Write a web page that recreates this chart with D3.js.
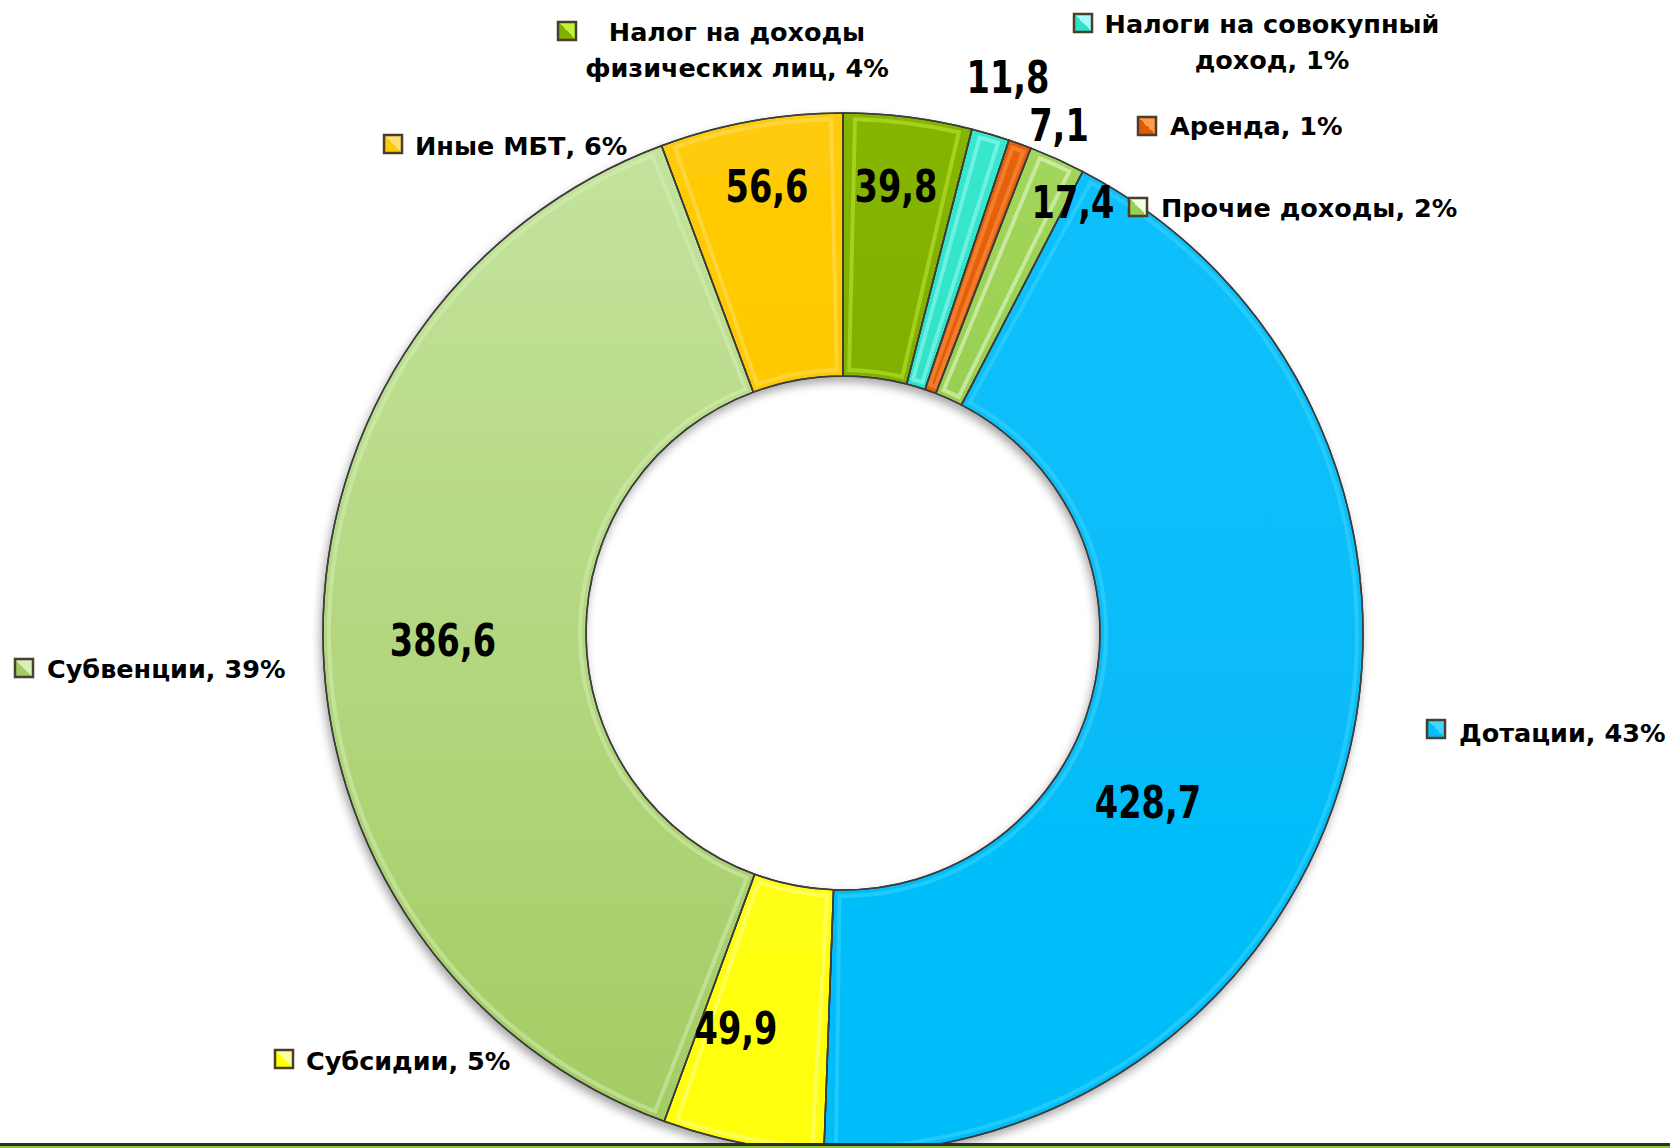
<!DOCTYPE html>
<html>
<head>
<meta charset="utf-8">
<script src="https://cdn.jsdelivr.net/npm/d3@7"></script>
<style>
  html, body { margin: 0; padding: 0; background: #fff; }
  svg { display: block; }
  .legend-text { font-family: "DejaVu Sans", sans-serif; font-weight: bold; font-size: 25.5px; fill: #000; }
  .value-text { font-family: "DejaVu Sans Condensed", "DejaVu Sans", sans-serif; font-weight: bold; font-size: 45px; fill: #000; }
</style>
</head>
<body>
<div id="chart"></div>
<script>
// slices, clockwise from 12 o'clock
const categories = ["Налог на доходы физических лиц", "Налоги на совокупный доход", "Аренда", "Прочие доходы",
                    "Дотации", "Субсидии", "Субвенции", "Иные МБТ"];
const values = [39.8, 11.8, 7.1, 17.4, 428.7, 49.9, 386.6, 56.6];
const colors = ["#80b000", "#2fe2c6", "#e35a06", "#98cf52", "#05bdf9", "#ffff0a", "#a3cc64", "#ffc902"];
const topColors = ["#86b504", "#38e8cc", "#e8620c", "#a2d65c", "#08bffa", "#ffff14", "#c4e39c", "#ffcc08"];
const rimColors = ["#c4f03a", "#a6fbff", "#ff9c45", "#f2ffe0", "#40d8ff", "#ffff9a", "#d8f0b8", "#ffe070"];

// how the legend names wrap
const nameLines = [["Налог на доходы", "физических лиц"], ["Налоги на совокупный", "доход"]];

// hand placement of labels, like the original Excel chart
const legendPos = [
  { mx: 558, my: 22, tx: 737, ty: 41, anchor: "middle" },
  { mx: 1074, my: 14, tx: 1272, ty: 33, anchor: "middle" },
  { mx: 1138, my: 117, tx: 1170, ty: 135, anchor: "start" },
  { mx: 1129, my: 198, tx: 1161, ty: 217, anchor: "start" },
  { mx: 1427, my: 720, tx: 1459, ty: 742, anchor: "start" },
  { mx: 275, my: 1050, tx: 306, ty: 1070, anchor: "start" },
  { mx: 15, my: 659, tx: 47, ty: 678, anchor: "start" },
  { mx: 384, my: 135, tx: 415, ty: 155, anchor: "start" }
];
const valuePos = [[896, 202], [1008, 93], [1059, 141], [1073, 218], [1148, 818], [736, 1044], [443, 656], [767, 202]];

const width = 1670, height = 1148;
const cx = 843, cy = 633, outerR = 520, innerR = 257;

const svg = d3.select("#chart").append("svg")
    .attr("width", width)
    .attr("height", height);

const defs = svg.append("defs");

const shadow = defs.append("filter").attr("id", "shadow")
    .attr("x", "-10%").attr("y", "-10%").attr("width", "120%").attr("height", "120%");
shadow.append("feDropShadow")
    .attr("dx", -2).attr("dy", 5).attr("stdDeviation", 5)
    .attr("flood-color", "#000").attr("flood-opacity", 0.35);

colors.forEach((c, i) => {
    const g = defs.append("linearGradient").attr("id", "grad" + i)
        .attr("x1", "0").attr("y1", "0").attr("x2", "0").attr("y2", "1");
    g.append("stop").attr("offset", "0%").attr("stop-color", topColors[i]);
    g.append("stop").attr("offset", "100%").attr("stop-color", c);
});

// box gradient for the legend keys
colors.forEach((c, i) => {
    const g = defs.append("linearGradient").attr("id", "key" + i)
        .attr("x1", "1").attr("y1", "0").attr("x2", "0").attr("y2", "1");
    g.append("stop").attr("offset", "0%").attr("stop-color", rimColors[i]);
    g.append("stop").attr("offset", "50%").attr("stop-color", rimColors[i]);
    g.append("stop").attr("offset", "50%").attr("stop-color", c);
    g.append("stop").attr("offset", "100%").attr("stop-color", c);
});

const total = d3.sum(values);
const pie = d3.pie().sort(null).value(d => d)(values);
const arc = d3.arc().innerRadius(innerR).outerRadius(outerR);
const bevel = d3.arc().innerRadius(innerR + 6).outerRadius(outerR - 6);

const donut = svg.append("g")
    .attr("transform", `translate(${cx},${cy})`);

donut.append("g").attr("filter", "url(#shadow)")
  .selectAll("path")
  .data(pie)
  .enter().append("path")
    .attr("d", arc)
    .attr("fill", (d, i) => `url(#grad${i})`)
    .attr("stroke", "#3d3d3d")
    .attr("stroke-width", 1.5);

// inner rim highlight (bevel look)
donut.append("g")
  .selectAll("path")
  .data(pie)
  .enter().append("path")
    .attr("d", d => {
        const pad = Math.min(6 / innerR, (d.endAngle - d.startAngle) / 4);
        return bevel({ startAngle: d.startAngle + pad, endAngle: d.endAngle - pad });
    })
    .attr("fill", "none")
    .attr("stroke", (d, i) => rimColors[i])
    .attr("stroke-opacity", 0.5)
    .attr("stroke-width", 4);

donut.append("g")
  .selectAll("path")
  .data(pie)
  .enter().append("path")
    .attr("d", arc)
    .attr("fill", "none")
    .attr("stroke", "#3d3d3d")
    .attr("stroke-width", 1.5);

// value labels (squeezed, the original font is narrow)
const fmt = v => d3.format(".1f")(v).replace(".", ",");
svg.append("g").selectAll("text")
  .data(values)
  .enter().append("text")
    .attr("class", "value-text")
    .attr("transform", (d, i) => `translate(${valuePos[i][0]},${valuePos[i][1]}) scale(0.83,1)`)
    .attr("text-anchor", "middle")
    .text(d => fmt(d));

// legend labels with keys
const legend = svg.append("g");
categories.forEach((name, i) => {
    const p = legendPos[i];
    const pct = Math.round(values[i] / total * 100) + "%";
    const lines = nameLines[i] ? nameLines[i].slice() : [name];
    lines[lines.length - 1] += ", " + pct;

    legend.append("rect")
        .attr("x", p.mx).attr("y", p.my)
        .attr("width", 18).attr("height", 18)
        .attr("fill", `url(#key${i})`)
        .attr("stroke", "#4a3f2c")
        .attr("stroke-width", 2.5);

    const t = legend.append("text")
        .attr("class", "legend-text")
        .attr("text-anchor", p.anchor);
    lines.forEach((ln, j) => {
        t.append("tspan")
            .attr("x", p.tx)
            .attr("y", p.ty + j * 36)
            .text(ln);
    });
});

// frame line at the bottom
svg.append("rect").attr("x", 0).attr("y", 1143).attr("width", width).attr("height", 3).attr("fill", "#2e2e2e");
svg.append("rect").attr("x", 0).attr("y", 1146).attr("width", width).attr("height", 2).attr("fill", "#8cc63f");
</script>
</body>
</html>
